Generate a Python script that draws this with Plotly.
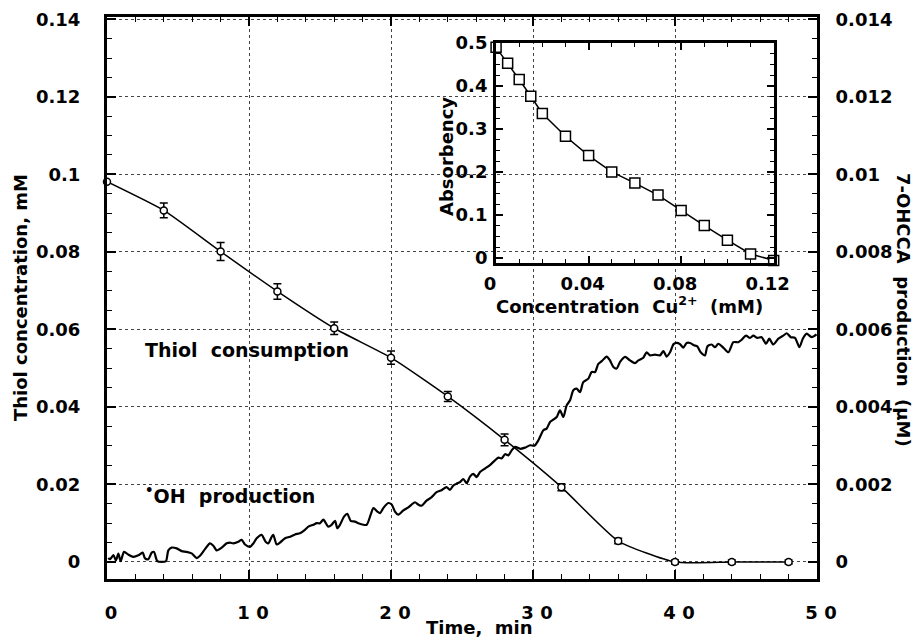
import plotly.graph_objects as go

# ---------------- data ----------------
thiol_time = [0, 4, 8, 12, 16, 20, 24, 28, 32, 36, 40, 44, 48]
thiol_conc = [0.0981, 0.0907, 0.0801, 0.0698, 0.0603, 0.0527, 0.0427, 0.0315, 0.0193, 0.0054, 0.0, 0.0, 0.0]
thiol_err = [0.0, 0.0019, 0.0023, 0.0020, 0.0016, 0.0017, 0.0013, 0.0015, 0.0009, 0.0007, 0.0005, 0.0005, 0.0005]

oh_time = [0.09, 0.21, 0.45, 0.63, 0.80, 0.96, 1.20, 1.50, 1.85, 2.21,
           2.51, 2.68, 2.91, 3.15, 3.31, 3.54, 3.85, 4.15, 4.32, 4.55,
           4.91, 5.26, 5.61, 5.96, 6.31, 6.55, 6.90, 7.25, 7.49, 7.72,
           8.08, 8.43, 8.66, 8.90, 9.25, 9.48, 9.72, 10.07, 10.31, 10.54,
           10.89, 11.17, 11.36, 11.60, 11.71, 11.95, 12.18, 12.54, 12.89, 13.24,
           13.59, 13.94, 14.18, 14.53, 14.77, 15.00, 15.24, 15.59, 15.82, 16.06,
           16.22, 16.41, 16.69, 16.93, 17.16, 17.46, 17.70, 18.05, 18.29, 18.57,
           18.76, 19.04, 19.23, 19.46, 19.81, 20.05, 20.28, 20.52,
           20.87, 21.22, 21.45, 21.69, 21.92, 22.15, 22.50, 22.86, 23.21, 23.56,
           23.91, 24.15, 24.38, 24.62, 24.86, 25.09, 25.33, 25.56, 25.80, 26.03,
           26.27, 26.62, 26.97, 27.32, 27.56, 27.79, 28.03, 28.27, 28.50, 28.74,
           29.09, 29.44, 29.80,
           30.10, 30.38, 30.73, 30.96, 31.20, 31.43, 31.67, 31.90, 32.14, 32.37,
           32.61, 32.84, 33.08, 33.31, 33.54, 33.90, 34.13, 34.37, 34.60, 34.84,
           35.19, 35.42, 35.66, 35.89, 36.13, 36.48, 36.83, 37.18, 37.42, 37.77,
           38.00, 38.24, 38.59, 38.94, 39.18, 39.41, 39.65, 39.90,
           40.12, 40.35, 40.59, 40.82, 41.06, 41.34, 41.57, 41.81, 42.11, 42.28,
           42.58, 42.82, 43.05, 43.40, 43.76, 44.11, 44.46, 44.69, 45.00, 45.28,
           45.52, 45.80, 46.10, 46.41, 46.64, 46.92, 47.28, 47.63, 47.87, 48.15,
           48.45, 48.76, 49.00, 49.27, 49.62, 49.97]
oh_value = [0.000104, 0.00007, 0.000174, 0.00004, 0.000217, 0.00002, 0.00026, 0.00019, 0.00013, 0.00017,
            0.00024, 0.00009, 0.00007, 0.00024, 0.00026, 0.00002, 0.0, 0.00002, 0.0003, 0.00037,
            0.00035, 0.00028, 0.00026, 0.00022, 0.0001, 0.00016, 0.00033, 0.00048, 0.00042, 0.0003,
            0.00037, 0.00048, 0.0005, 0.00048, 0.00052, 0.00057, 0.00045, 0.00039, 0.00048, 0.00061,
            0.0007, 0.00052, 0.00048, 0.00065, 0.0007, 0.00045, 0.0005, 0.00061, 0.00065, 0.00071,
            0.00074, 0.00083, 0.00091, 0.00096, 0.001, 0.001, 0.00109, 0.00091, 0.00096, 0.00106,
            0.00087, 0.00096, 0.00117, 0.00124, 0.00106, 0.00104, 0.001, 0.00096, 0.00096, 0.00122,
            0.00139, 0.0013, 0.00126, 0.00139, 0.00152, 0.00148, 0.0013, 0.00122,
            0.00133, 0.00141, 0.00148, 0.00154, 0.00148, 0.00145, 0.00158, 0.00167, 0.0018, 0.00185,
            0.00193, 0.00186, 0.00197, 0.00202, 0.00206, 0.00214, 0.00203, 0.0022, 0.00227, 0.00219,
            0.00232, 0.00241, 0.0025, 0.00262, 0.00269, 0.00267, 0.00278, 0.00275, 0.00288, 0.00297,
            0.00292, 0.00295, 0.00301,
            0.003, 0.00314, 0.0034, 0.00344, 0.00361, 0.00367, 0.00374, 0.00391, 0.00374, 0.00404,
            0.00417, 0.00443, 0.00447, 0.00438, 0.00464, 0.00473, 0.0049, 0.0049, 0.00511, 0.00518,
            0.0053, 0.0052, 0.00503, 0.00499, 0.00516, 0.00529, 0.0052, 0.00513, 0.0052, 0.00527,
            0.00541, 0.00533, 0.00535, 0.00533, 0.00544, 0.0053, 0.00541, 0.00562,
            0.00565, 0.00562, 0.00553, 0.00565, 0.00565, 0.00559, 0.00556, 0.00541, 0.00533, 0.00556,
            0.00561, 0.00554, 0.00563, 0.00553, 0.00541, 0.00567, 0.00567, 0.00573, 0.00584, 0.00578,
            0.00584, 0.00578, 0.0058, 0.00563, 0.00576, 0.00561, 0.00576, 0.00584, 0.0059, 0.0058,
            0.00578, 0.00554, 0.00576, 0.00589, 0.0058, 0.00587]

cu_conc = [0, 0.005, 0.01, 0.015, 0.02, 0.03, 0.04, 0.05, 0.06, 0.07, 0.08, 0.09, 0.10, 0.11, 0.12]
absorbency = [0.49, 0.453, 0.415, 0.376, 0.336, 0.283, 0.238, 0.20, 0.174, 0.146, 0.11, 0.075, 0.041, 0.009, -0.006]

x_tickvals = [0, 10, 20, 30, 40, 50]
x_ticktext = ['0', '1 0', '2 0', '3 0', '4 0', '5 0']
y_tickvals = [0, 0.02, 0.04, 0.06, 0.08, 0.10, 0.12, 0.14]
y_ticktext = ['0', '0.02', '0.04', '0.06', '0.08', '0.1', '0.12', '0.14']
y2_tickvals = [0, 0.002, 0.004, 0.006, 0.008, 0.010, 0.012, 0.014]
y2_ticktext = ['0', '0.002', '0.004', '0.006', '0.008', '0.01', '0.012', '0.014']
ins_x_tickvals = [0, 0.04, 0.08, 0.12]
ins_x_ticktext = ['0', '0.04', '0.08', '0.12']
ins_y_tickvals = [0, 0.1, 0.2, 0.3, 0.4, 0.5]
ins_y_ticktext = ['0', '0.1', '0.2', '0.3', '0.4', '0.5']

# ---------------- figure ----------------
FONT = 'DejaVu Sans'
bold = lambda s: dict(family=FONT, size=s, color='black', weight='bold')

fig = go.Figure()
fig.add_trace(go.Scatter(
    x=oh_time, y=oh_value, xaxis='x', yaxis='y2', mode='lines',
    line=dict(color='black', width=2.2, shape='spline', smoothing=0.7),
    hoverinfo='skip', showlegend=False))
fig.add_trace(go.Scatter(
    x=thiol_time, y=thiol_conc, xaxis='x', yaxis='y', mode='lines+markers',
    line=dict(color='black', width=1.5, shape='spline', smoothing=0.5),
    marker=dict(symbol='circle', size=7, color='white', line=dict(color='black', width=1.5)),
    error_y=dict(type='data', array=thiol_err, visible=True, color='black', thickness=1.5, width=4),
    cliponaxis=False, showlegend=False))
fig.add_trace(go.Scatter(
    x=cu_conc, y=absorbency, xaxis='x3', yaxis='y3', mode='lines+markers',
    line=dict(color='black', width=1.5),
    marker=dict(symbol='square', size=10, color='white', line=dict(color='black', width=1.5)),
    cliponaxis=False, showlegend=False))

grid = dict(showgrid=True, gridcolor='#444', griddash='dot', gridwidth=1)
common = dict(ticks='inside', tickwidth=1.5, tickcolor='black', showline=True, linewidth=3,
              linecolor='black', zeroline=False, automargin=False)
fig.update_layout(
    template='none',
    width=923, height=643,
    margin=dict(l=107, r=106, t=17, b=64),
    paper_bgcolor='white', plot_bgcolor='rgba(0,0,0,0)',
    xaxis=dict(domain=[0, 1], range=[0, 50], tickvals=x_tickvals, ticktext=x_ticktext, ticklen=9,
               minor=dict(dtick=2, ticks='inside', ticklen=5, tickwidth=1, tickcolor='black', showgrid=False),
               mirror='ticks', tickfont=bold(18), ticklabelstandoff=15, ticklabelshift=4,
               **common, **grid),
    yaxis=dict(domain=[0, 1], range=[-0.0044, 0.1406], tickvals=y_tickvals, ticktext=y_ticktext, ticklen=9,
               minor=dict(dtick=0.005, ticks='inside', ticklen=5, tickwidth=1, tickcolor='black', showgrid=False),
               tickfont=bold(18), ticklabelstandoff=20, **common, **grid),
    yaxis2=dict(overlaying='y', side='right', range=[-0.00044, 0.01406],
                tickvals=y2_tickvals, ticktext=y2_ticktext, ticklen=9,
                minor=dict(dtick=0.0005, ticks='inside', ticklen=5, tickwidth=1, tickcolor='black', showgrid=False),
                showgrid=False, tickfont=bold(18), ticklabelstandoff=12, **common),
    xaxis3=dict(domain=[0.548, 0.939], anchor='y3', range=[0, 0.12],
                tickvals=ins_x_tickvals, ticktext=ins_x_ticktext, ticklen=7,
                minor=dict(dtick=0.01, ticks='inside', ticklen=4, tickwidth=1, tickcolor='black', showgrid=False),
                mirror='ticks', showgrid=False, tickfont=bold(18), ticklabelshift=-6,
                ticklabelstandoff=2, **common),
    yaxis3=dict(domain=[0.5623, 0.9537], anchor='x3', range=[-0.012, 0.5],
                tickvals=ins_y_tickvals, ticktext=ins_y_ticktext, ticklen=7,
                minor=dict(dtick=0.025, ticks='inside', ticklen=4, tickwidth=1, tickcolor='black', showgrid=False),
                mirror='ticks', showgrid=False, tickfont=bold(18), ticklabelstandoff=2, **common),
)

ann = [
    dict(text='Thiol concentration, mM', x=-0.1225, y=0.5, textangle=-90, font=bold(18)),
    dict(text='7-OHCCA\u00a0 production\u00a0 (\u03bcM)', x=1.121, y=0.479, textangle=90, font=bold(18)),
    dict(text='Time,\u00a0 min', x=0.5240, y=-0.087, font=bold(18)),
    dict(text='Thiol\u00a0 consumption', x=0.0507, y=0.4075, xanchor='left', font=bold(19)),
    dict(text='<sup>\u2022</sup>OH\u00a0 production', x=0.0507, y=0.150, xanchor='left', font=bold(19)),
    dict(text='Absorbency', x=0.4789, y=0.7509, textangle=-90, font=bold(18)),
    dict(text='Concentration\u00a0 Cu<sup>2+</sup>\u00a0 (mM)', x=0.7366, y=0.4875, font=bold(18)),
]
for a in ann:
    a.setdefault('xanchor', 'center')
    fig.add_annotation(xref='paper', yref='paper', showarrow=False, yanchor='middle', **a)

fig.write_html('out.html', config={'displayModeBar': False},
               post_script="document.body.style.margin='0';document.body.style.overflow='hidden';")
